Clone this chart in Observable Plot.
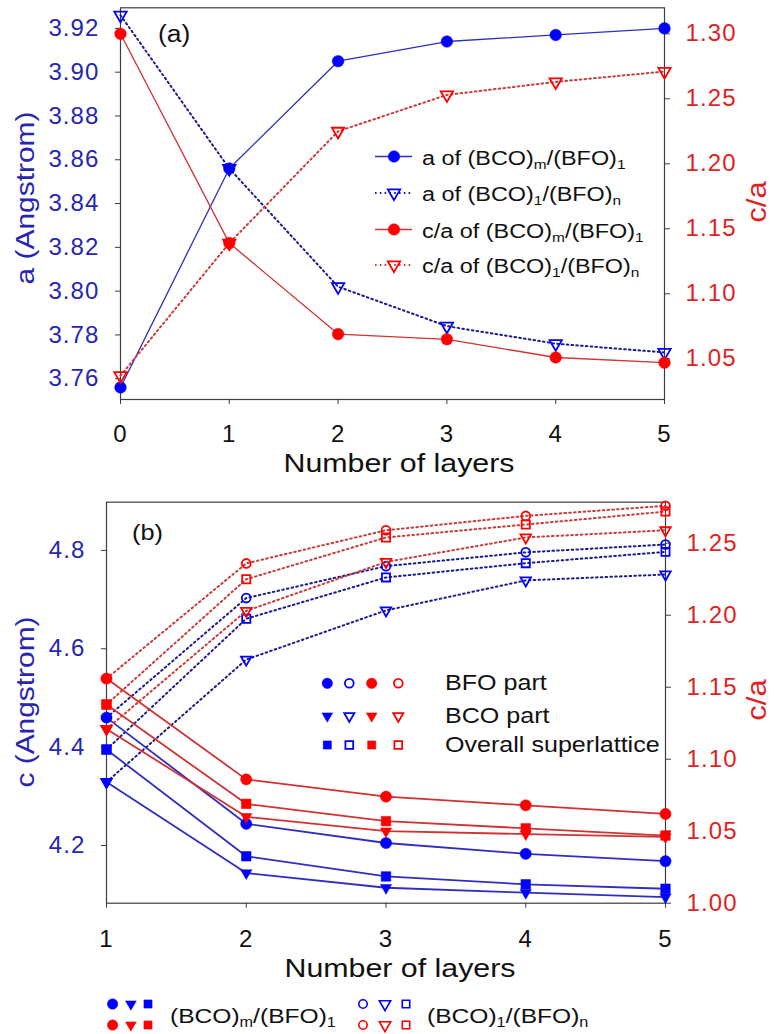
<!DOCTYPE html>
<html><head><meta charset="utf-8">
<script src="https://cdn.jsdelivr.net/npm/d3@7"></script>
<script src="https://cdn.jsdelivr.net/npm/@observablehq/plot@0.6"></script>
<style>
body{margin:0;background:#fff;}
#root{position:relative;width:774px;height:1034px;overflow:hidden;font-family:"Liberation Sans",Arial,Helvetica,sans-serif;}
.layer{position:absolute;left:0;}
.layer text{letter-spacing:1.1px;}
.w{position:absolute;width:0;height:0;}
.t{position:absolute;left:0;top:0;white-space:nowrap;line-height:1;transform-origin:0 0;}
.t sub{font-size:0.66em;vertical-align:-0.32em;line-height:0;}
</style></head><body><div id="root"></div>
<script>
// ---------------- data: panel (a) ----------------
const layersA = [0, 1, 2, 3, 4, 5];
const aM  = [3.756, 3.856, 3.905, 3.914, 3.917, 3.920];   // a of (BCO)m/(BFO)1
const aN  = [3.926, 3.856, 3.802, 3.784, 3.776, 3.772];   // a of (BCO)1/(BFO)n
const caM = [1.300, 1.139, 1.069, 1.065, 1.051, 1.047];   // c/a of (BCO)m/(BFO)1
const caN = [1.037, 1.139, 1.225, 1.253, 1.263, 1.271];   // c/a of (BCO)1/(BFO)n
const ticksAx = [0, 1, 2, 3, 4, 5];
const ticksAleft = [3.76, 3.78, 3.80, 3.82, 3.84, 3.86, 3.88, 3.90, 3.92];
const ticksAright = [1.05, 1.10, 1.15, 1.20, 1.25, 1.30];

// ---------------- data: panel (b) ----------------
const layersB = [1, 2, 3, 4, 5];
const cBfoM  = [4.460, 4.244, 4.205, 4.183, 4.168];
const cBcoM  = [4.329, 4.144, 4.114, 4.104, 4.095];
const cAllM  = [4.395, 4.178, 4.137, 4.121, 4.112];
const cBfoN  = [4.460, 4.703, 4.768, 4.796, 4.812];
const cBcoN  = [4.329, 4.578, 4.678, 4.739, 4.751];
const cAllN  = [4.395, 4.661, 4.745, 4.774, 4.797];
const caBfoM = [1.156, 1.086, 1.074, 1.068, 1.062];
const caBcoM = [1.121, 1.060, 1.050, 1.048, 1.046];
const caAllM = [1.138, 1.069, 1.057, 1.052, 1.047];
const caBfoN = [1.156, 1.236, 1.259, 1.269, 1.276];
const caBcoN = [1.121, 1.203, 1.237, 1.254, 1.259];
const caAllN = [1.138, 1.225, 1.254, 1.263, 1.272];
const ticksBx = [1, 2, 3, 4, 5];
const ticksBleft = [4.2, 4.4, 4.6, 4.8];
const ticksBright = [1.00, 1.05, 1.10, 1.15, 1.20, 1.25];

// ---------------- styles ----------------
const BLUE = "#0000ff", BLUE_LINE = "#2e2ebf", BLUE_DOT = "#1c1c8c", BLUE_TXT = "#2626b3";
const RED = "#ff0000", RED_LINE = "#d13232", RED_DOT = "#c83c3c", RED_TXT = "#e21f1f";
const FONT = '"Liberation Sans", Arial, Helvetica, sans-serif';

const sqrt3 = Math.sqrt(3);
const triangleDown = {
  draw(ctx, size) {
    const y = -Math.sqrt(size / (sqrt3 * 3));
    ctx.moveTo(0, -y * 2);
    ctx.lineTo(-sqrt3 * y, y);
    ctx.lineTo(sqrt3 * y, y);
    ctx.closePath();
  }
};
const SYM = {circle: "circle", square: "square", tri: triangleDown};

const root = document.getElementById("root");
const rows = (xs, ys) => xs.map((x, i) => ({x, y: ys[i]}));

function layer(o) {
  const marks = [];
  if (o.frame) marks.push(Plot.frame({stroke: "#3d3d3d", strokeWidth: 1.2}));
  if (o.showX) marks.push(Plot.axisX({ticks: o.xticks, tickFormat: d3.format("d"), tickSize: 5,
      tickPadding: o.xpad, fontSize: 24, fill: "#111", stroke: "#3d3d3d", label: null}));
  marks.push(Plot.axisY({anchor: o.side, ticks: o.yticks, tickFormat: d3.format(o.yfmt), tickSize: 5,
      tickPadding: 16, fontSize: 24, fill: o.tickColor, stroke: "#3d3d3d", label: null}));
  for (const s of o.series) {
    marks.push(Plot.line(rows(s.xs, s.ys), {x: "x", y: "y", stroke: s.line, strokeWidth: s.lw,
      strokeDasharray: s.dotted ? "1.6,3.2" : null}));
  }
  for (const s of o.series.filter(s => !s.filled)) {
    marks.push(Plot.dot(rows(s.xs, s.ys), {x: "x", y: "y", r: s.r, symbol: SYM[s.sym],
      fill: "none", stroke: s.color, strokeWidth: 1.8}));
  }
  for (const s of o.series.filter(s => s.filled)) {
    marks.push(Plot.dot(rows(s.xs, s.ys), {x: "x", y: "y", r: s.r, symbol: SYM[s.sym],
      fill: s.color, stroke: s.color, strokeWidth: 0.5}));
  }
  const svg = Plot.plot({
    width: 774, height: o.height,
    marginTop: o.mt, marginBottom: o.height - o.bottom, marginLeft: o.ml, marginRight: o.mr,
    x: {domain: o.xdom, axis: null},
    y: {domain: o.ydom, axis: null},
    style: {fontFamily: FONT, background: "transparent", overflow: "visible"},
    marks
  });
  svg.classList.add("layer");
  svg.style.top = o.top + "px";
  root.appendChild(svg);
}

// ---- panel (a)
const A = {top: 0, height: 490, mt: 7.3, bottom: 399, ml: 120, mr: 110, xdom: [0, 5], xticks: ticksAx, xpad: 20};
layer({...A, frame: true, showX: true, side: "left", yticks: ticksAleft, yfmt: ".2f", tickColor: BLUE_TXT,
  ydom: [3.7505, 3.9294],
  series: [
    {xs: layersA, ys: aM, line: BLUE_LINE, lw: 1.3, dotted: false, filled: true, sym: "circle", r: 5.8, color: BLUE},
    {xs: layersA, ys: aN, line: BLUE_DOT, lw: 2, dotted: true, filled: false, sym: "tri", r: 4.6, color: BLUE}
  ]});
layer({...A, frame: false, showX: false, side: "right", yticks: ticksAright, yfmt: ".2f", tickColor: RED_TXT,
  ydom: [1.0187, 1.3200],
  series: [
    {xs: layersA, ys: caM, line: RED_LINE, lw: 1.3, dotted: false, filled: true, sym: "circle", r: 5.8, color: RED},
    {xs: layersA, ys: caN, line: RED_DOT, lw: 2, dotted: true, filled: false, sym: "tri", r: 4.6, color: RED}
  ]});

// ---- panel (b)
const B = {top: 490, height: 500, mt: 11.7, bottom: 412.7, ml: 106, mr: 109, xdom: [1, 5], xticks: ticksBx, xpad: 22};
layer({...B, frame: true, showX: true, side: "left", yticks: ticksBleft, yfmt: ".1f", tickColor: BLUE_TXT,
  ydom: [4.0826, 4.898],
  series: [
    {xs: layersB, ys: cBfoN, line: BLUE_DOT, lw: 2, dotted: true, filled: false, sym: "circle", r: 4.4, color: BLUE},
    {xs: layersB, ys: cBcoN, line: BLUE_DOT, lw: 2, dotted: true, filled: false, sym: "tri", r: 3.9, color: BLUE},
    {xs: layersB, ys: cAllN, line: BLUE_DOT, lw: 2, dotted: true, filled: false, sym: "square", r: 4.6, color: BLUE},
    {xs: layersB, ys: cBfoM, line: BLUE_LINE, lw: 1.8, dotted: false, filled: true, sym: "circle", r: 5.6, color: BLUE},
    {xs: layersB, ys: cBcoM, line: BLUE_LINE, lw: 1.8, dotted: false, filled: true, sym: "tri", r: 4.2, color: BLUE},
    {xs: layersB, ys: cAllM, line: BLUE_LINE, lw: 1.8, dotted: false, filled: true, sym: "square", r: 5.4, color: BLUE}
  ]});
layer({...B, frame: false, showX: false, side: "right", yticks: ticksBright, yfmt: ".2f", tickColor: RED_TXT,
  ydom: [1.0, 1.2785],
  series: [
    {xs: layersB, ys: caBfoN, line: RED_DOT, lw: 2, dotted: true, filled: false, sym: "circle", r: 4.4, color: RED},
    {xs: layersB, ys: caBcoN, line: RED_DOT, lw: 2, dotted: true, filled: false, sym: "tri", r: 3.9, color: RED},
    {xs: layersB, ys: caAllN, line: RED_DOT, lw: 2, dotted: true, filled: false, sym: "square", r: 4.6, color: RED},
    {xs: layersB, ys: caBfoM, line: RED_LINE, lw: 1.8, dotted: false, filled: true, sym: "circle", r: 5.6, color: RED},
    {xs: layersB, ys: caBcoM, line: RED_LINE, lw: 1.8, dotted: false, filled: true, sym: "tri", r: 4.2, color: RED},
    {xs: layersB, ys: caAllM, line: RED_LINE, lw: 1.8, dotted: false, filled: true, sym: "square", r: 5.4, color: RED}
  ]});

// ---------------- text labels (HTML) ----------------
function label(html, x, y, {size = 24, color = "#111", rotate = 0, anchor = "center", sx = 1.15} = {}) {
  const w = document.createElement("div");
  w.className = "w"; w.style.left = x + "px"; w.style.top = y + "px";
  const s = document.createElement("span");
  s.className = "t"; s.innerHTML = html;
  s.style.fontSize = size + "px"; s.style.color = color;
  const tr = anchor === "center" ? "translate(-50%,-50%)" : "translate(0,-50%)";
  s.style.transform = (rotate ? `rotate(${rotate}deg) ` : "") + `scaleX(${sx}) ` + tr;
  w.appendChild(s); root.appendChild(w);
}
label("(a)", 158, 34, {size: 23, anchor: "left"});
label("(b)", 132, 533, {size: 22, anchor: "left"});
label("a (Angstrom)", 24.5, 198, {size: 26, color: BLUE_TXT, rotate: -90});
label("c/a", 757, 202, {size: 27, color: RED_TXT, rotate: -90});
label("c (Angstrom)", 24.5, 702, {size: 26, color: BLUE_TXT, rotate: -90});
label("c/a", 757, 700, {size: 27, color: RED_TXT, rotate: -90});
label("Number of layers", 399, 464, {size: 25.5, sx: 1.19});
label("Number of layers", 399.5, 969, {size: 25.5, sx: 1.19});

// ---------------- legends ----------------
const ns = "http://www.w3.org/2000/svg";
const lg = document.createElementNS(ns, "svg");
lg.setAttribute("width", 774); lg.setAttribute("height", 1034);
lg.style.position = "absolute"; lg.style.left = "0"; lg.style.top = "0"; lg.style.overflow = "visible";
root.appendChild(lg);
function symPath(sym, r) {
  const type = sym === "circle" ? d3.symbolCircle : sym === "square" ? d3.symbolSquare : triangleDown;
  return d3.symbol(type, Math.PI * r * r)();
}
function addSym(x, y, sym, r, color, filled, sw = 1.8) {
  const p = document.createElementNS(ns, "path");
  p.setAttribute("d", symPath(sym, r));
  p.setAttribute("transform", `translate(${x},${y})`);
  p.setAttribute("fill", filled ? color : "none");
  p.setAttribute("stroke", color);
  p.setAttribute("stroke-width", filled ? 0.5 : sw);
  lg.appendChild(p);
}
function addLine(x1, x2, y, color, lw, dotted) {
  const l = document.createElementNS(ns, "line");
  l.setAttribute("x1", x1); l.setAttribute("x2", x2); l.setAttribute("y1", y); l.setAttribute("y2", y);
  l.setAttribute("stroke", color); l.setAttribute("stroke-width", lw);
  if (dotted) l.setAttribute("stroke-dasharray", "1.6,3.2");
  lg.appendChild(l);
}
// legend (a)
const legA = [
  {txt: "a of (BCO)<sub>m</sub>/(BFO)<sub>1</sub>", line: BLUE_LINE, color: BLUE, dotted: false, filled: true, sym: "circle", y: 156.5},
  {txt: "a of (BCO)<sub>1</sub>/(BFO)<sub>n</sub>", line: BLUE_DOT, color: BLUE, dotted: true, filled: false, sym: "tri", y: 193},
  {txt: "c/a of (BCO)<sub>m</sub>/(BFO)<sub>1</sub>", line: RED_LINE, color: RED, dotted: false, filled: true, sym: "circle", y: 229.5},
  {txt: "c/a of (BCO)<sub>1</sub>/(BFO)<sub>n</sub>", line: RED_DOT, color: RED, dotted: true, filled: false, sym: "tri", y: 265}
];
for (const e of legA) {
  addLine(375, 412, e.y, e.line, e.dotted ? 2 : 1.3, e.dotted);
  addSym(394, e.y, e.sym, e.filled ? 5.8 : 4.6, e.color, e.filled);
  label(e.txt, 421.5, e.y + 1, {size: 20, anchor: "left", sx: 1.17});
}
// legend (b)
const legB = [
  {txt: "BFO part", sym: "circle", y: 683.3, rf: 5.2, ro: 4.4},
  {txt: "BCO part", sym: "tri", y: 716, rf: 4.0, ro: 3.8},
  {txt: "Overall superlattice", sym: "square", y: 745, rf: 4.6, ro: 4.4}
];
for (const e of legB) {
  addSym(327.3, e.y, e.sym, e.rf, BLUE, true);
  addSym(349.3, e.y, e.sym, e.ro, BLUE, false);
  addSym(371.7, e.y, e.sym, e.rf, RED, true);
  addSym(398.3, e.y, e.sym, e.ro, RED, false);
  label(e.txt, 445, e.y, {size: 22, anchor: "left", sx: 1.14});
}
// bottom legend
const legSyms = ["circle", "tri", "square"];
const legX1 = [112.6, 130.9, 148], legX2 = [363, 385, 406];
legSyms.forEach((s, i) => {
  const rf = s === "circle" ? 5.2 : s === "tri" ? 4.0 : 4.6;
  addSym(legX1[i], 1004, s, rf, BLUE, true);
  addSym(legX1[i], 1025, s, rf, RED, true);
  addSym(legX2[i], 1004, s, 4.2, BLUE, false, 1.6);
  addSym(legX2[i], 1025, s, 4.2, RED, false, 1.6);
});
label("(BCO)<sub>m</sub>/(BFO)<sub>1</sub>", 170, 1015, {size: 21, anchor: "left", sx: 1.17});
label("(BCO)<sub>1</sub>/(BFO)<sub>n</sub>", 427, 1015, {size: 21, anchor: "left", sx: 1.17});
</script></body></html>
